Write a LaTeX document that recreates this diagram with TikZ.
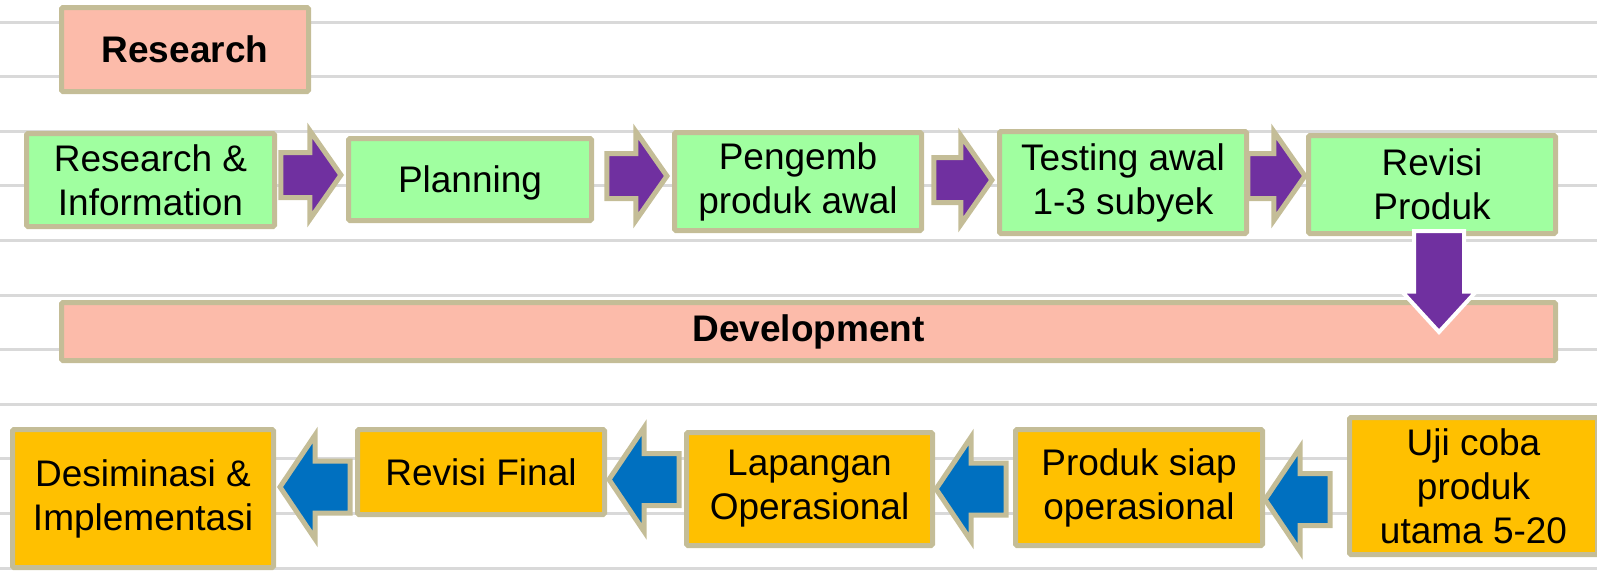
\documentclass[tikz,border=0pt]{standalone}
\usepackage{fontspec}
\setmainfont{Liberation Sans}
\usetikzlibrary{shapes.arrows,calc,backgrounds}

\definecolor{tanline}{RGB}{196,189,151}
\definecolor{ruleline}{RGB}{217,217,217}
\definecolor{stepgreen}{RGB}{160,255,160}
\definecolor{phasesalmon}{RGB}{252,187,170}
\definecolor{steporange}{RGB}{255,192,0}
\definecolor{arrowpurple}{RGB}{112,48,160}
\definecolor{arrowblue}{RGB}{0,112,192}

\begin{document}
\begin{tikzpicture}[
		x=1pt,y=-1pt,
		box/.style={
			draw=tanline,line width=5pt,rounded corners=1.5pt,inner sep=0pt,
			align=center,font=\fontsize{37}{44}\selectfont,
		},
		greenbox/.style={box,fill=stepgreen},
		orangebox/.style={box,fill=steporange},
		phase/.style={box,fill=phasesalmon,font=\fontsize{37}{40}\selectfont\bfseries},
		purplearrow/.style={
			single arrow,draw=tanline,fill=arrowpurple,line width=5pt,
			inner xsep=0pt,inner ysep=20pt,minimum height=60pt,
			single arrow head extend=22pt,single arrow tip angle=110,
			anchor=tip,xshift=-2pt,
		},
		bluearrow/.style={
			single arrow,draw=tanline,fill=arrowblue,line width=5pt,
			inner xsep=0pt,inner ysep=23.5pt,minimum height=70pt,
			single arrow head extend=26pt,single arrow tip angle=112,
			shape border rotate=180,anchor=tip,xshift=1pt,
		},
		downarrow/.style={
			single arrow,draw=white,fill=arrowpurple,line width=4pt,
			inner xsep=0pt,inner ysep=23pt,minimum height=101pt,
			single arrow head extend=12pt,single arrow tip angle=85,
			rotate=-90,anchor=tail,
		},
	]

	\useasboundingbox (0,0) rectangle (1597,570);

	% ruled background
	\begin{scope}[on background layer]
		\foreach \k in {0,...,10}
		\draw [ruleline,line width=3pt] (0,22+54.6*\k) -- (1597,22+54.6*\k);
	\end{scope}

	% phases
	\node [phase,minimum width=247pt,minimum height=84pt] (research) at (185,49.5) {Research};
	\node [phase,minimum width=1494pt,minimum height=58pt] (development) at (808.5,331.5) {Development};

	% research steps
	\node [greenbox,minimum width=248pt,minimum height=93pt] (info) at (150.5,180) {Research \&\\Information};
	\node [greenbox,minimum width=243pt,minimum height=82pt,text depth=0pt] (plan) at (470,179.5) {Planning};
	\node [greenbox,minimum width=247pt,minimum height=98pt] (draft) at (798,181.5) {Pengemb\\produk awal};
	\node [greenbox,minimum width=247pt,minimum height=102pt] (pretest) at (1123,182.5) {Testing awal\\1-3 subyek};
	\node [greenbox,minimum width=247pt,minimum height=98pt] (revise) at (1432,184.5) {Revisi\\Produk};

	% development steps
	\node [orangebox,minimum width=248pt,minimum height=137pt] (trial) at (1473.5,486) {Uji coba\\produk\\utama 5-20};
	\node [orangebox,minimum width=247pt,minimum height=116pt] (ready) at (1139,487.5) {Produk siap\\operasional};
	\node [orangebox,minimum width=246pt,minimum height=113pt] (field) at (809.5,489) {Lapangan\\Operasional};
	\node [orangebox,minimum width=247pt,minimum height=85pt] (final) at (481,472) {Revisi Final};
	\node [orangebox,minimum width=261pt,minimum height=138pt] (spread) at (143,498.5) {Desiminasi \&\\Implementasi};

	% block arrows behind the boxes
	\begin{scope}[on background layer]
		\node [purplearrow,yshift=4.5pt] (r-1) at (plan.west) {};
		\node [purplearrow,yshift=5.5pt] (r-2) at (draft.west) {};
		\node [purplearrow,yshift=2.5pt,minimum height=58pt] (r-3) at (pretest.west) {};
		\node [purplearrow,yshift=8.5pt,minimum height=57pt,xshift=4pt] (r-4) at (revise.west) {};

		\node [bluearrow,yshift=-12pt,minimum height=65pt,xshift=-4pt] (d-1) at (ready.east) {};
		\node [bluearrow,xshift=-3pt] (d-2) at (field.east) {};
		\node [bluearrow,yshift=-7.5pt,xshift=-2pt] (d-3) at (final.east) {};
		\node [bluearrow,yshift=11.5pt] (d-4) at (spread.east) {};
	\end{scope}

	% from research into development
	\node [downarrow] (turn) at ([xshift=7pt,yshift=7pt]revise.south) {};

\end{tikzpicture}
\end{document}
